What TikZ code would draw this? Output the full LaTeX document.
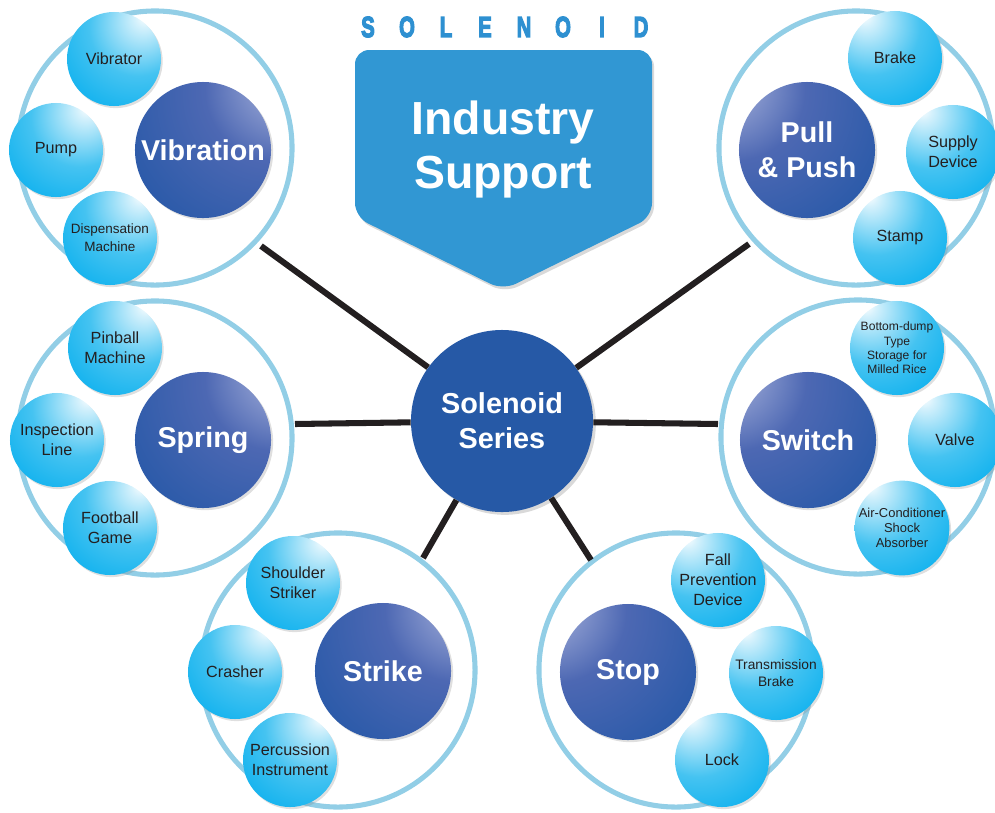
\documentclass[tikz,border=0pt]{standalone}
\usepackage{fontspec}
\setmainfont{Liberation Sans}
\newfontfamily\titlefont[FakeBold=5]{Liberation Sans Bold}
\usepackage{graphicx}
\usetikzlibrary{shadows}

\definecolor{ringblue}{HTML}{92CEE6}
\definecolor{bannerblue}{HTML}{3197D3}
\definecolor{titleblue}{HTML}{2E90D1}
\definecolor{hubblue}{HTML}{2659A6}
\definecolor{linkblack}{HTML}{231F20}
\definecolor{cyanhl}{HTML}{D4F1FC}
\definecolor{cyanmid}{HTML}{45C3F1}
\definecolor{cyanball}{HTML}{0BB0EE}
\definecolor{cyanedge}{HTML}{00A5E6}
\definecolor{navyhl}{HTML}{E6E8F5}
\definecolor{navylight}{HTML}{A9B3DC}
\definecolor{navymid}{HTML}{4D68B3}
\definecolor{navydark}{HTML}{2859A8}

% ball shadings, highlight on the right (R) or on the left (L)
\pgfdeclareradialshading{smallR}{\pgfpoint{17bp}{23bp}}{color(0bp)=(white); color(5bp)=(cyanhl); color(26bp)=(cyanmid); color(46bp)=(cyanball); color(100bp)=(cyanedge)}
\pgfdeclareradialshading{smallL}{\pgfpoint{-17bp}{23bp}}{color(0bp)=(white); color(5bp)=(cyanhl); color(26bp)=(cyanmid); color(46bp)=(cyanball); color(100bp)=(cyanedge)}
\pgfdeclareradialshading{bigR}{\pgfpoint{36bp}{30bp}}{color(0bp)=(navyhl); color(6bp)=(navylight); color(26bp)=(navymid); color(52bp)=(navydark); color(100bp)=(navydark)}
\pgfdeclareradialshading{bigL}{\pgfpoint{-36bp}{30bp}}{color(0bp)=(navyhl); color(6bp)=(navylight); color(26bp)=(navymid); color(52bp)=(navydark); color(100bp)=(navydark)}

\begin{document}
\begin{tikzpicture}[x=0.025cm, y=-0.025cm,
    ring/.style={circle, draw=ringblue, line width=3.6pt, minimum size=6.85cm, inner sep=0pt},
    ball/.style={circle, minimum size=2.35cm, inner sep=0pt, align=center, text=linkblack, font=\fontsize{11.5}{14.2}\selectfont, drop shadow={shadow xshift=1.2pt, shadow yshift=-1.5pt, opacity=0.25}},
    ballR/.style={ball, shading=smallR},
    ballL/.style={ball, shading=smallL},
    big/.style={circle, minimum size=3.4cm, inner sep=0pt, align=center, text=white, font=\bfseries\fontsize{20.4}{25}\selectfont, drop shadow={shadow xshift=1.5pt, shadow yshift=-1.5pt, opacity=0.25}},
    bigR/.style={big, shading=bigR},
    bigL/.style={big, shading=bigL},
    hub/.style={circle, fill=hubblue, minimum size=4.55cm, inner sep=0pt, align=center, text=white, font=\bfseries\fontsize{20.5}{25}\selectfont, drop shadow={shadow xshift=2pt, shadow yshift=-2pt, opacity=0.3}},
    link/.style={draw=linkblack, line width=4.3pt},
    titleletter/.style={text=titleblue, font=\titlefont\fontsize{20}{20}\selectfont, inner sep=0pt}
]
\useasboundingbox (0,0) rectangle (995,812);

% Title
\foreach \ch [count=\i] in {S,O,L,E,N,O,I,D}
  \node[titleletter] (t\i) at ({368+39*(\i-1)},27) {\scalebox{0.72}[1.03]{\ch}};

% Banner
\fill[bannerblue, rounded corners=10pt, drop shadow={shadow xshift=1.5pt, shadow yshift=-2pt, opacity=0.3}]
  (355,217) -- (355,50) -- (652,50) -- (652,217) -- (503,290) -- cycle;
\node[text=white, font=\bfseries\fontsize{33}{38.4}\selectfont, align=center] (industry) at (503,149) {Industry\\Support};

% Rings
\node[ring] (gvib) at (155,148) {};
\node[ring] (gspr) at (155,438) {};
\node[ring] (gstr) at (338,670) {};
\node[ring] (gstp) at (676,670) {};
\node[ring] (gswi) at (858,437) {};
\node[ring] (gpul) at (856,148) {};

% Vibration
\node[bigR] (vibration) at (203,150) {Vibration};
\node[ballR] (vibrator) at (114,59) {Vibrator};
\node[ballR] (pump) at (56,150) {Pump};
\node[ballR, font=\fontsize{9.6}{12.8}\selectfont] (dispensation) at (110,238) {Dispensation\\Machine};

% Spring
\node[bigR] (spring) at (203,440) {Spring};
\node[ballR] (pinball) at (115,348) {Pinball\\Machine};
\node[ballR] (inspection) at (57,440) {Inspection\\Line};
\node[ballR] (football) at (110,528) {Football\\Game};

% Strike
\node[bigR] (strike) at (383,671) {Strike};
\node[ballR] (shoulder) at (293,583) {Shoulder\\Striker};
\node[ballR] (crasher) at (235,672) {Crasher};
\node[ballR] (percussion) at (290,760) {Percussion\\Instrument};

% Stop
\node[bigL] (stop) at (628,672) {Stop};
\node[ballL] (fall) at (718,580) {Fall\\Prevention\\Device};
\node[ballL, font=\fontsize{9.8}{12}\selectfont] (transmission) at (776,673) {Transmission\\Brake};
\node[ballL] (lock) at (722,760) {Lock};

% Switch
\node[bigL] (switch) at (808,440) {Switch};
\node[ballL, font=\fontsize{8.6}{10.2}\selectfont] (storage) at (897,348) {Bottom-dump\\Type\\Storage for\\Milled Rice};
\node[ballL] (valve) at (955,440) {Valve};
\node[ballL, font=\fontsize{9.2}{10.7}\selectfont] (aircon) at (902,528) {Air-Conditioner\\Shock\\Absorber};

% Pull & Push
\node[bigL] (pullpush) at (807,150) {Pull\\\& Push};
\node[ballL] (brake) at (895,58) {Brake};
\node[ballL] (supply) at (953,152) {Supply\\Device};
\node[ballL] (stamp) at (900,238) {Stamp};

% Hub
\node[hub] (sol) at (502,421) {Solenoid\\Series};

% Connectors
\coordinate (evib) at (261,246);
\coordinate (espr) at (295,424);
\coordinate (estr) at (423,558);
\coordinate (estp) at (591,560);
\coordinate (eswi) at (718,424);
\coordinate (epul) at (749,244);
\foreach \e in {evib,espr,estr,estp,eswi,epul}
  \draw[link] (sol) -- (\e);
\end{tikzpicture}
\end{document}
